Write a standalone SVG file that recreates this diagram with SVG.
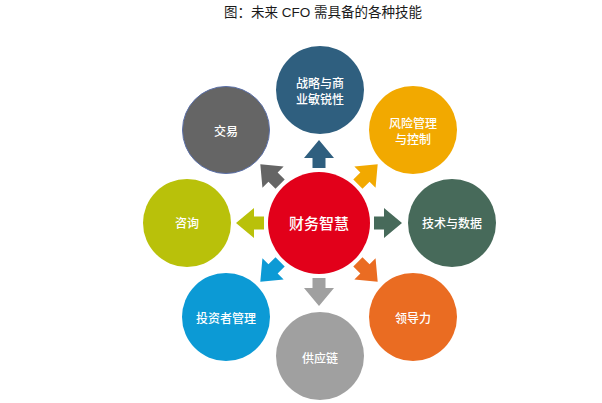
<svg xmlns="http://www.w3.org/2000/svg" width="602" height="403" viewBox="0 0 602 403">
<style>
.t{font-family:"Noto Sans CJK SC","Liberation Sans",sans-serif;fill:#fff;font-size:12px;font-weight:500;text-anchor:middle;dominant-baseline:central}
.title{font-family:"Liberation Sans","Noto Sans CJK SC",sans-serif;fill:#1a1a1a;font-size:13.5px;text-anchor:middle}
</style>
<defs>
<path id="arr" d="M -6.5 -55 L -6.5 -65 L -15 -65 L 0 -83 L 15 -65 L 6.5 -65 L 6.5 -55 Z"/>
</defs>
<rect width="602" height="403" fill="#fff"/>
<text class="title" x="323" y="17">图：未来 CFO 需具备的各种技能</text>
<g id="connectors" transform="translate(319,223)">
<use href="#arr" fill="#2F5F7F"/>
<use href="#arr" fill="#F2A900" transform="rotate(45)"/>
<use href="#arr" fill="#476A5A" transform="rotate(90)"/>
<use href="#arr" fill="#EA6C22" transform="rotate(135)"/>
<use href="#arr" fill="#A0A0A0" transform="rotate(180)"/>
<use href="#arr" fill="#0C9AD5" transform="rotate(225)"/>
<use href="#arr" fill="#B9C10A" transform="rotate(270)"/>
<use href="#arr" fill="#656565" transform="rotate(315)"/>
</g>
<g id="center">
<circle cx="319" cy="223" r="51" fill="#E2001A"/>
<text class="t" x="319" y="222" style="font-size:15px">财务智慧</text>
</g>
<g id="strategy">
<circle cx="320" cy="90" r="44" fill="#2F5F7F"/>
<text class="t" x="320" y="82">战略与商</text>
<text class="t" x="320" y="98">业敏锐性</text>
</g>
<g id="risk">
<circle cx="413" cy="130" r="44" fill="#F2A900"/>
<text class="t" x="413" y="122">风险管理</text>
<text class="t" x="413" y="138">与控制</text>
</g>
<g id="tech">
<circle cx="452" cy="223" r="44" fill="#476A5A"/>
<text class="t" x="452" y="222">技术与数据</text>
</g>
<g id="leadership">
<circle cx="413" cy="317" r="44" fill="#EA6C22"/>
<text class="t" x="413" y="317">领导力</text>
</g>
<g id="supply">
<circle cx="320" cy="356" r="44" fill="#A0A0A0"/>
<text class="t" x="320" y="357">供应链</text>
</g>
<g id="investor">
<circle cx="226" cy="317" r="44" fill="#0C9AD5"/>
<text class="t" x="226" y="317">投资者管理</text>
</g>
<g id="consult">
<circle cx="187" cy="223" r="44" fill="#B9C10A"/>
<text class="t" x="187" y="222">咨询</text>
</g>
<g id="trade">
<circle cx="226" cy="130" r="43.5" fill="#656565" stroke="#5A6FA8" stroke-width="1"/>
<text class="t" x="226" y="130">交易</text>
</g>
</svg>
